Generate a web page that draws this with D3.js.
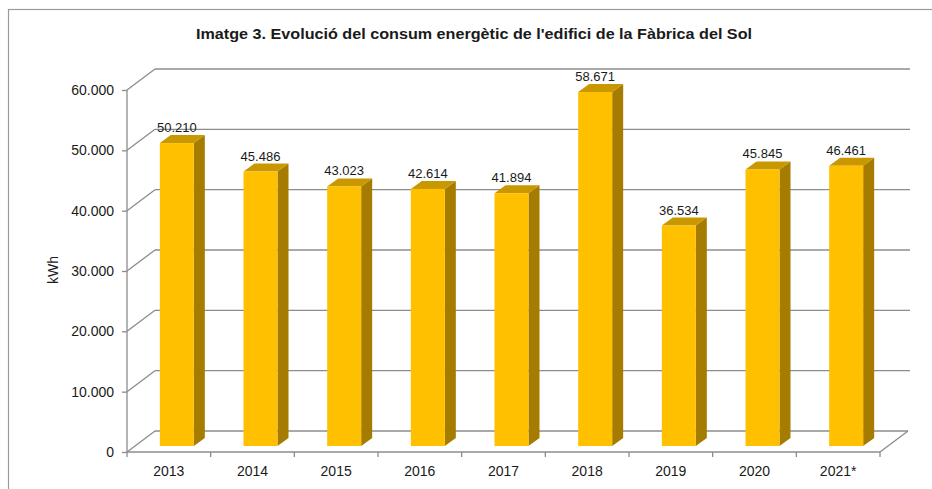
<!DOCTYPE html>
<html lang="ca">
<head>
<meta charset="utf-8">
<title>Evolució del consum energètic</title>
<script src="https://d3js.org/d3.v7.min.js"></script>
<style>
  body { margin: 0; background: #fff; }
  text { font-family: "Liberation Sans", Arial, sans-serif; fill: #1a1a1a; }
</style>
</head>
<body>
<script>
var years = ["2013", "2014", "2015", "2016", "2017", "2018", "2019", "2020", "2021*"];
var consum = [50210, 45486, 43023, 42614, 41894, 58671, 36534, 45845, 46461];
var yTicks = [0, 10000, 20000, 30000, 40000, 50000, 60000];

var svgWidth = 932,
    svgHeight = 489,
    plotLeft = 127, plotRight = 880, plotBottom = 452, plotTop = 90,
    wall = {dx: 28, dy: -21},     // depth of the back wall
    plane = {dx: 8, dy: -6},      // where the bars stand
    depth = {dx: 11, dy: -8},     // bar thickness
    barW = 34;

var svg = d3.select("body").append("svg")
    .attr("width", svgWidth)
    .attr("height", svgHeight);

var fmt = d3.formatLocale({decimal: ",", thousands: ".", grouping: [3], currency: ["", " €"]}).format(",d");

var x = d3.scaleBand().domain(years).range([plotLeft, plotRight]);
var y = d3.scaleLinear().domain([0, 60000]).range([plotBottom, plotTop]);

// outer frame
svg.append("rect")
    .attr("x", 8.5).attr("y", 9.5)
    .attr("width", 960).attr("height", 520)
    .attr("fill", "none").attr("stroke", "#9a9a9a").attr("stroke-width", 1.2);

// title
svg.append("text")
    .attr("x", 474).attr("y", 39)
    .attr("text-anchor", "middle")
    .attr("font-weight", "bold")
    .attr("font-size", 15)
    .attr("textLength", 556)
    .attr("lengthAdjust", "spacingAndGlyphs")
    .text("Imatge 3. Evolució del consum energètic de l'edifici de la Fàbrica del Sol");

var grid = svg.append("g")
    .attr("stroke", "#8c8c8c")
    .attr("stroke-width", 1.3)
    .attr("fill", "none");

// back wall gridlines
grid.selectAll(".back")
    .data(yTicks)
    .enter().append("line")
    .attr("x1", plotLeft + wall.dx)
    .attr("x2", function(d) { return d === 0 ? plotRight + wall.dx : 910; })
    .attr("y1", function(d) { return y(d) + wall.dy; })
    .attr("y2", function(d) { return y(d) + wall.dy; });

// side wall diagonals
grid.selectAll(".diag")
    .data(yTicks)
    .enter().append("line")
    .attr("x1", plotLeft)
    .attr("y1", function(d) { return y(d); })
    .attr("x2", plotLeft + wall.dx)
    .attr("y2", function(d) { return y(d) + wall.dy; });

// floor right edge
grid.append("line")
    .attr("x1", plotRight).attr("y1", plotBottom)
    .attr("x2", plotRight + wall.dx).attr("y2", plotBottom + wall.dy);

// y axis
var yAxis = svg.append("g")
    .attr("transform", "translate(" + plotLeft + ",0)")
    .call(d3.axisLeft(y).tickValues(yTicks).tickSize(5).tickPadding(8).tickFormat(fmt));
yAxis.select(".domain").attr("stroke", "#8c8c8c").attr("stroke-width", 1.3).attr("d", "M0," + plotTop + "V" + plotBottom);
yAxis.selectAll(".tick line").attr("stroke", "#8c8c8c").attr("stroke-width", 1.3);
yAxis.selectAll(".tick text").attr("font-size", 14).attr("font-family", "Liberation Sans, Arial, sans-serif").attr("fill", "#1a1a1a");

// x axis
var xAxis = svg.append("g")
    .attr("transform", "translate(0," + plotBottom + ")")
    .call(d3.axisBottom(x).tickSize(0).tickPadding(14));
xAxis.select(".domain").attr("stroke", "#8c8c8c").attr("stroke-width", 1.3).attr("d", "M" + plotLeft + ",0H" + plotRight);
xAxis.selectAll(".tick text").attr("font-size", 14).attr("font-family", "Liberation Sans, Arial, sans-serif").attr("fill", "#1a1a1a");
xAxis.selectAll(".sep")
    .data(years.concat(["end"]))
    .enter().append("line")
    .attr("stroke", "#8c8c8c").attr("stroke-width", 1.3)
    .attr("x1", function(d, i) { return plotLeft + i * x.bandwidth(); })
    .attr("x2", function(d, i) { return plotLeft + i * x.bandwidth(); })
    .attr("y1", 0).attr("y2", 5);

// axis title
svg.append("text")
    .attr("transform", "translate(58,270) rotate(-90)")
    .attr("text-anchor", "middle")
    .attr("font-size", 14)
    .text("kWh");

// bars
var bars = svg.append("g")
    .selectAll("g")
    .data(years.map(function(d, i) { return {year: d, value: consum[i]}; }))
    .enter().append("g");

function x0(d) { return x(d.year) + x.bandwidth() / 2 + plane.dx - barW / 2; }
function yTop(d) { return y(d.value) + plane.dy; }
var yBase = y(0) + plane.dy;

bars.append("path")   // side face
    .attr("fill", "#a67c00")
    .attr("d", function(d) {
        var xr = x0(d) + barW, yt = yTop(d);
        return "M" + xr + "," + yBase + "L" + (xr + depth.dx) + "," + (yBase + depth.dy) +
            "L" + (xr + depth.dx) + "," + (yt + depth.dy) + "L" + xr + "," + yt + "Z";
    });

bars.append("path")   // top face
    .attr("fill", "#c99700")
    .attr("d", function(d) {
        var xl = x0(d), yt = yTop(d);
        return "M" + xl + "," + yt + "L" + (xl + depth.dx) + "," + (yt + depth.dy) +
            "L" + (xl + barW + depth.dx) + "," + (yt + depth.dy) + "L" + (xl + barW) + "," + yt + "Z";
    });

bars.append("rect")   // front face
    .attr("fill", "#ffc000")
    .attr("x", x0)
    .attr("y", yTop)
    .attr("width", barW)
    .attr("height", function(d) { return yBase - yTop(d); });

bars.append("text")
    .attr("x", function(d) { return x0(d) + barW / 2; })
    .attr("y", function(d) { return yTop(d) + depth.dy - 3; })
    .attr("text-anchor", "middle")
    .attr("font-size", 13)
    .text(function(d) { return fmt(d.value); });
</script>
</body>
</html>
